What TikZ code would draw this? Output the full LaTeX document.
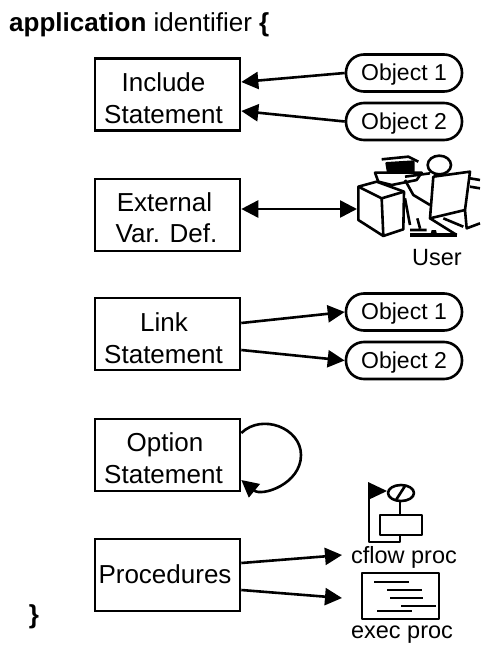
\documentclass[tikz,border=0pt]{standalone}
\usepackage{fontspec}
\setmainfont{Liberation Sans}
\usetikzlibrary{arrows.meta}
\newcommand\tx[3]{\raisebox{-#2pt}[\height][\depth]{#3}\kern#1pt}
\tikzset{
 x=1pt,y=-1pt,
 box/.style={draw,line width=2.6pt,fill=white,minimum height=72pt,minimum width=145pt,align=center,inner sep=0pt,font=\fontsize{26}{32}\selectfont},
 obj/.style={draw,line width=2.6pt,rounded corners=18pt,minimum width=116pt,minimum height=37pt,inner sep=0pt,font=\fontsize{23}{26}\selectfont},
 lab/.style={font=\fontsize{23.5}{26}\selectfont,inner sep=0pt},
 arr/.style={line width=2.6pt,-{Triangle[length=17pt,width=17pt]}},
 darr/.style={line width=2.6pt,{Triangle[length=17pt,width=17pt]}-{Triangle[length=17pt,width=17pt]}},
 ink/.style={line width=2.6pt,line join=round},
}
\begin{document}
\begin{tikzpicture}
\useasboundingbox (0,0) rectangle (486,659);
\node[anchor=west,inner sep=0pt,font=\fontsize{26}{30}\selectfont] (title) at (9,25) {\textbf{application} identifier \textbf{\{}};
\node[inner sep=0pt,font=\bfseries\fontsize{26}{30}\selectfont] (close) at (34,617) {\}};
\node[box] (inc) at (167.5,94.5) {\tx{8}{4}{Include}\\\tx{8}{4}{Statement}};
\node[box] (ext) at (167.5,215) {\tx{6}{3.5}{External}\\\tx{2}{2}{Var. Def.}};
\node[box] (lnk) at (167.5,334) {\tx{7}{4}{Link}\\\tx{8}{4}{Statement}};
\node[box] (opt) at (167.5,455) {\tx{5}{3}{Option}\\\tx{8}{3}{Statement}};
\node[box] (pro) at (167.5,575) {\tx{5}{-1}{Procedures}};
\node[obj] (o1) at (404,73) {\tx{0}{2}{Object 1}};
\node[obj] (o2) at (404,121.5) {\tx{0}{2.5}{Object 2}};
\node[obj] (o3) at (404,312) {\tx{0}{2}{Object 1}};
\node[obj] (o4) at (404,360.5) {\tx{0}{2.5}{Object 2}};
\node[lab] (user) at (437,258) {User};
\node[lab] (cf) at (404,557) {cflow proc};
\node[lab] (ex) at (402,635) {exec proc};
\coordinate (ua) at (357,209);
\coordinate (ca) at (342,555);
\coordinate (ea) at (342,598);
\draw[arr] (o1.west) -- (inc.east |- 0,82);
\draw[arr] (o2.west) -- (inc.east |- 0,111);
\draw[darr] (ext.east |- ua) -- (ua);
\draw[arr] (lnk.east |- 0,323) -- (o3.west);
\draw[arr] (lnk.east |- 0,350) -- (o4.west);
\draw[arr] (pro.east |- 0,563) -- (ca);
\draw[arr] (pro.east |- 0,590) -- (ea);
\draw[arr] (opt.east |- 0,433) .. controls (262,413) and (301,428) .. (301,455) .. controls (301,484) and (262,497) .. (opt.east |- 0,480);
% user at desk
\begin{scope}[ink,shift={(330,130)},scale=1/3]
\draw[fill=white] (85,170) -- (140,155) -- (222,185) -- (220,298) -- (160,318) -- (85,270) -- cycle;
\draw (85,170) -- (155,205) -- (222,185) (155,205) -- (160,318);
\draw (155,88) -- (235,80) -- (265,95);
\draw[fill=black] (170,100) -- (250,95) -- (250,130) -- (175,130) -- cycle;
\draw[fill=white] (135,128) -- (275,128) -- (260,150) -- (185,165) -- (145,155) -- cycle;
\draw[fill=white] (310,140) -- (420,125) -- (405,240) -- (300,265) -- cycle;
\draw[fill=white] (328,105) ellipse (35pt and 28pt);
\draw (225,140) -- (300,130);
\draw (225,150) -- (250,195) -- (300,225);
\draw (225,205) -- (240,285);
\draw (240,300) -- (290,300) (262,265) -- (270,295);
\draw (300,265) -- (380,315) (340,265) -- (400,290);
\draw[line width=3.2pt] (240,315) -- (380,315);
\fill (305,300) -- (318,300) -- (322,318) -- (300,318) -- cycle;
\draw (420,145) -- (450,150) (450,175) -- (420,170) (405,240) -- (410,295) -- (450,280);
\end{scope}
% flow icon
\begin{scope}[ink]
\draw (369,495) -- (369,542) -- (400,542) -- (400,535);
\fill (368,482) -- (387,491) -- (368,500) -- cycle;
\draw[fill=white] (401,493) ellipse (13pt and 8pt);
\draw (396,500) -- (405,486);
\draw (400,501) -- (400,515);
\draw[fill=white] (380,515) rectangle (422,535);
\end{scope}
% exec icon
\begin{scope}[ink]
\draw (362,573) rectangle (439,619);
\draw[line width=2.4pt] (374,582) -- (409,582) (387,590) -- (422,590) (390,598) -- (423,598) (401,606) -- (436,606) (377,611) -- (412,611);
\end{scope}
\end{tikzpicture}
\end{document}
